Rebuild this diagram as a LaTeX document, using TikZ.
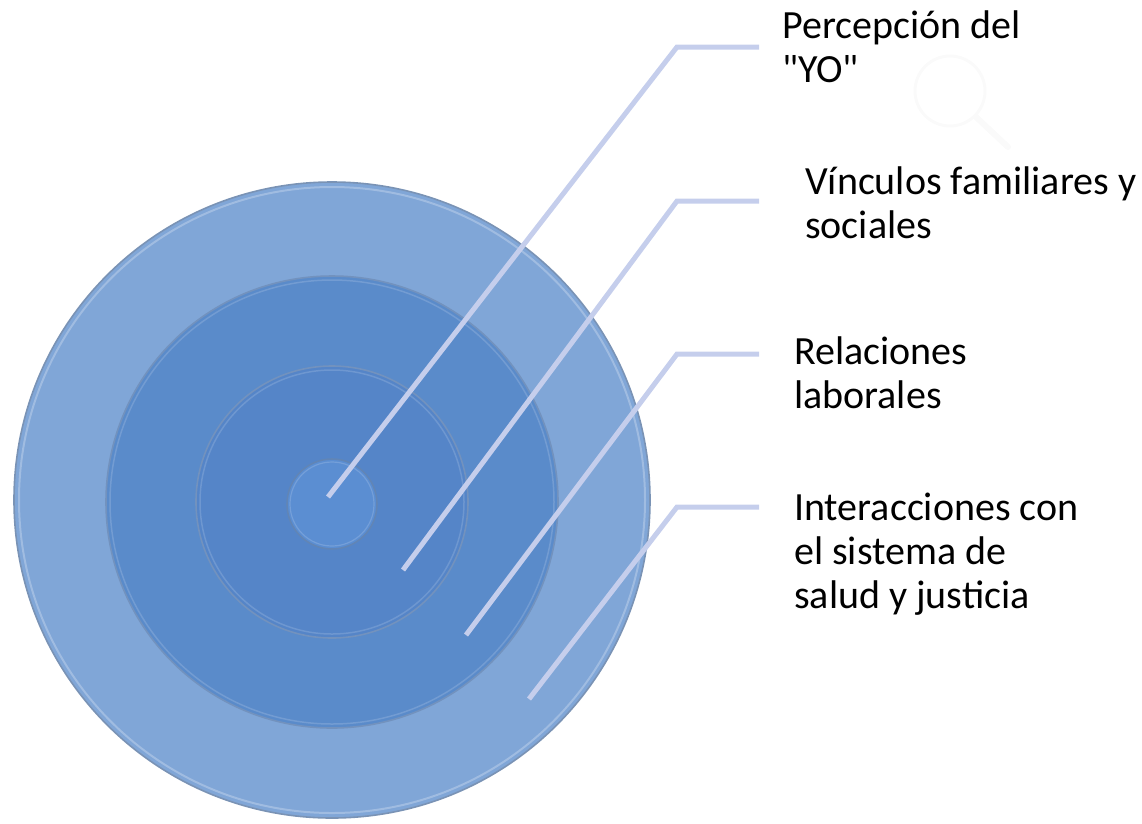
\documentclass[tikz,border=0pt]{standalone}
\usepackage{fontspec}
\setmainfont{Carlito}[Ligatures=TeXOff]
\definecolor{ringA}{HTML}{80A6D7}
\definecolor{ringB}{HTML}{5A8BCA}
\definecolor{ringC}{HTML}{5585C8}
\definecolor{ringD}{HTML}{5B8ED2}
\definecolor{edgeA}{HTML}{7A93B5}
\definecolor{edgeB}{HTML}{4F77AE}
\definecolor{leader}{HTML}{C5CEEC}
\begin{document}
\begin{tikzpicture}[x=1pt,y=-1pt,
  ring/.style={circle, inner sep=0pt, outer sep=0pt, line width=1.6pt},
  leadline/.style={draw=leader, line width=5pt, line join=miter},
  lbl/.style={anchor=base west, inner sep=0pt, align=left, font=\fontsize{40}{44}\selectfont}]
\useasboundingbox (0,0) rectangle (1142,823);
% magnifier watermark (very faint)
\draw[black!2, line width=3pt] (950,91) circle (35);
\draw[black!2, line width=6pt, line cap=round] (976,117) -- (1008,147);
% rings
\node[ring, fill=ringA, draw=edgeA, minimum size=636pt] (r1) at (332,500) {};
\draw[white!25!ringA, line width=2pt] (332,500) circle (313);
\node[ring, fill=ringB, draw=edgeB!80, minimum size=452pt] (r2) at (332,502) {};
\draw[white!15!ringB, line width=1.5pt] (332,502) circle (222);
\node[ring, fill=ringC, draw=edgeB!80, minimum size=272pt] (r3) at (332,502) {};
\draw[white!15!ringC, line width=1.5pt] (332,502) circle (132);
\node[ring, fill=ringD, draw=edgeB!90, minimum size=90pt] (r4) at (332,504) {};
\draw[white!15!ringD, line width=1.2pt] (332,504) circle (42);
% leader points
\coordinate (s1) at (328,497);
\coordinate (k1) at (677,47);
\coordinate (e1) at (759,47);
\coordinate (s2) at (403,570);
\coordinate (k2) at (677,201);
\coordinate (e2) at (759,201);
\coordinate (s3) at (466,635);
\coordinate (k3) at (677,354);
\coordinate (e3) at (759,354);
\coordinate (s4) at (529,699);
\coordinate (k4) at (677,507);
\coordinate (e4) at (759,507);
\draw[leadline] (s1) -- (k1) -- (e1);
\draw[leadline] (s2) -- (k2) -- (e2);
\draw[leadline] (s3) -- (k3) -- (e3);
\draw[leadline] (s4) -- (k4) -- (e4);
% labels (anchor at baseline of last line)
\node[lbl] (t1) at (782,82) {Percepción del\\"YO"};
\node[lbl] (t2) at (805,238) {Vínculos familiares y\\sociales};
\node[lbl] (t3) at (794,408) {Relaciones\\laborales};
\node[lbl] (t4) at (794,608) {Interacciones con\\el sistema de\\salud y justicia};
\end{tikzpicture}
\end{document}
